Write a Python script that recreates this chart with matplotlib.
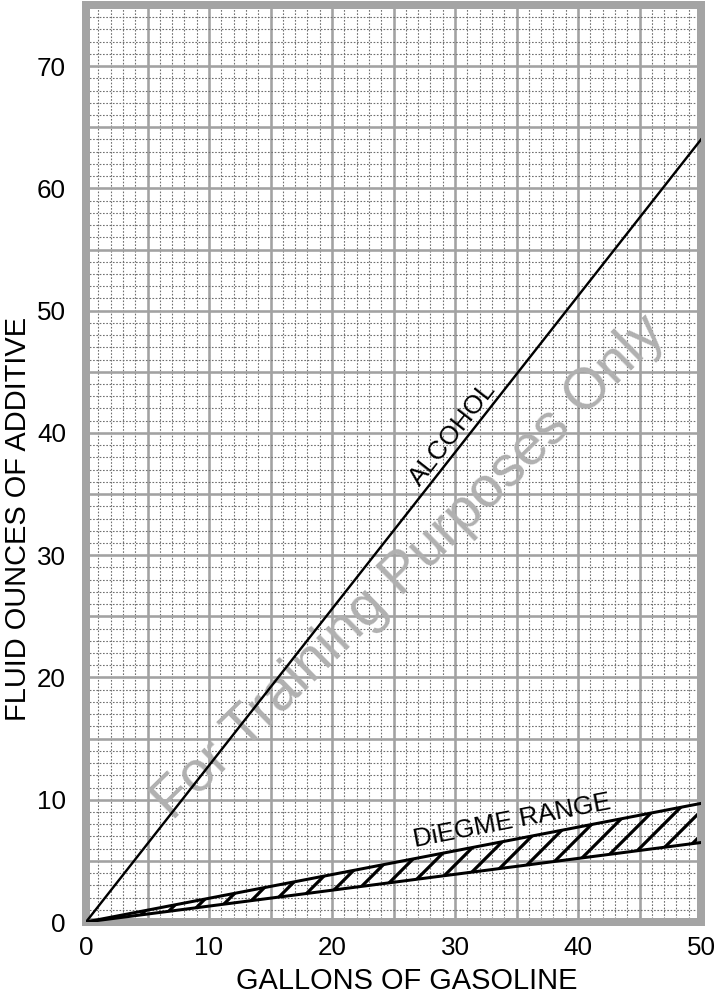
import numpy as np
import matplotlib
matplotlib.use("Agg")
import matplotlib.pyplot as plt
from matplotlib.ticker import MultipleLocator, FuncFormatter

plt.rcParams['font.family'] = ['Liberation Sans', 'DejaVu Sans']
plt.rcParams['hatch.linewidth'] = 1.6

# (gallons -> fluid ounces)
gallons = [0, 50]
alcohol = [0, 64]
diegme_low = [0, 6.5]
diegme_high = [0, 9.7]

x_ticks = [0, 10, 20, 30, 40, 50]
y_ticks = [0, 10, 20, 30, 40, 50, 60, 70]

fig = plt.figure(figsize=(5, 997 / 144), dpi=144)
ax = fig.add_axes([86 / 720, 75 / 997, 615 / 720, 917 / 997])
ax.set_xlim(0, 50)
ax.set_ylim(0, 75)

### grid: heavy every 5, light every 1 ###
ax.xaxis.set_major_locator(MultipleLocator(5))
ax.yaxis.set_major_locator(MultipleLocator(5))
ax.xaxis.set_minor_locator(MultipleLocator(1))
ax.yaxis.set_minor_locator(MultipleLocator(1))
fmt_x = FuncFormatter(lambda v, p: "%d" % v if int(round(v)) in x_ticks else "")
fmt_y = FuncFormatter(lambda v, p: "%d" % v if int(round(v)) in y_ticks else "")
ax.xaxis.set_major_formatter(fmt_x)
ax.yaxis.set_major_formatter(fmt_y)
ax.grid(True, which='major', color='#a2a2a2', lw=1.3)
ax.grid(True, which='minor', color='#707070', lw=0.55, ls=(0, (1.5, 1.5)))
ax.tick_params(which='both', length=0, labelsize=13)
ax.tick_params(axis='x', pad=7)
ax.tick_params(axis='y', pad=10)

for s in ax.spines.values():
    s.set_color('#a4a4a4')
    s.set_linewidth(4)

### curves ###
ax.plot(gallons, alcohol, color='black', lw=1.2, zorder=3)
ax.plot(gallons, diegme_low, color='black', lw=1.5, zorder=3)
ax.plot(gallons, diegme_high, color='black', lw=1.5, zorder=3)
ax.fill_between(gallons, diegme_low, diegme_high, facecolor='none',
                edgecolor='black', hatch='//', linewidth=0, zorder=2.5)

ax.text(29.8, 39.9, "ALCOHOL", rotation=51.8, ha='center', va='center',
        fontsize=13, zorder=4)
ax.text(34.6, 8.3, "DiEGME RANGE", rotation=11, ha='center', va='center',
        fontsize=13, zorder=4)

# watermark
ax.text(26.3, 29.0, "For Training Purposes Only", rotation=44.5,
        ha='center', va='center', fontsize=28.5, color='#b0b0b0', zorder=1.6)

ax.set_xlabel("GALLONS OF GASOLINE", fontsize=14.5, va='center')
ax.set_ylabel("FLUID OUNCES OF ADDITIVE", fontsize=14.5, va='center')
ax.xaxis.set_label_coords(0.522, -0.0643)
ax.yaxis.set_label_coords(-0.1106, 0.44)

fig.savefig("out.png", dpi=144)
